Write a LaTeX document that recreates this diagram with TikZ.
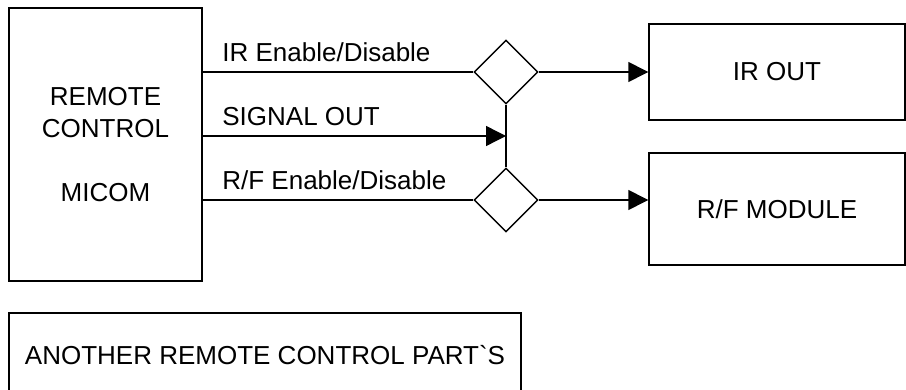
\documentclass[tikz,border=0pt]{standalone}
\usepackage{fontspec}
\newfontfamily\arialish{Liberation Sans}
\usetikzlibrary{arrows.meta,%
                shapes,positioning}

\begin{document}
\begin{tikzpicture}[x=0.5pt,y=-0.5pt,
  box/.style={draw,line width=0.7pt,inner sep=0pt,font=\arialish\fontsize{13}{16}\selectfont},
  gate/.style={draw,diamond,line width=0.7pt,minimum width=32pt,minimum height=32pt,inner sep=0pt},
  sig/.style={line width=0.7pt},
  tip/.style={sig,-{Triangle[length=10pt,width=10pt]}},
  lbl/.style={anchor=base west,inner sep=0pt,font=\arialish\fontsize{13}{16}\selectfont}]
\clip (0,0) rectangle (906,390);
\useasboundingbox (0,0) rectangle (906,390);

\node (micom) [box,minimum width=96.5pt,minimum height=136.5pt,align=center] at (105.5,144.5) {REMOTE\\CONTROL\\[16pt]MICOM};
\node (irgate) [gate] at (506,72) {};
\node (rfgate) [gate] at (506,200) {};
\node (irout) [box,minimum width=128pt,minimum height=48pt] at (777,72) {IR OUT};
\node (rfmod) [box,minimum width=128pt,minimum height=56pt] at (777,209) {R/F MODULE};
\node (other) [box,minimum width=256pt,minimum height=42pt] at (265,355) {ANOTHER REMOTE CONTROL PART`S};
\coordinate (join) at (506,136);

\node (irlbl) [lbl] at (222,62) {IR Enable/Disable};
\node (siglbl) [lbl] at (222,126) {SIGNAL OUT};
\node (rflbl) [lbl] at (222,190) {R/F Enable/Disable};

\draw [sig] (micom.east |- irgate.west) -- (irgate.west);
\draw [sig] (micom.east |- rfgate.west) -- (rfgate.west);
\draw [sig] (irgate.south) -- (rfgate.north);
\draw [tip] (micom.east |- join) -- (join);
\draw [tip] (irgate.east) -- (irout.west);
\draw [tip] (rfgate.east) -- (rfgate.east -| rfmod.west);

\end{tikzpicture}
\end{document}
